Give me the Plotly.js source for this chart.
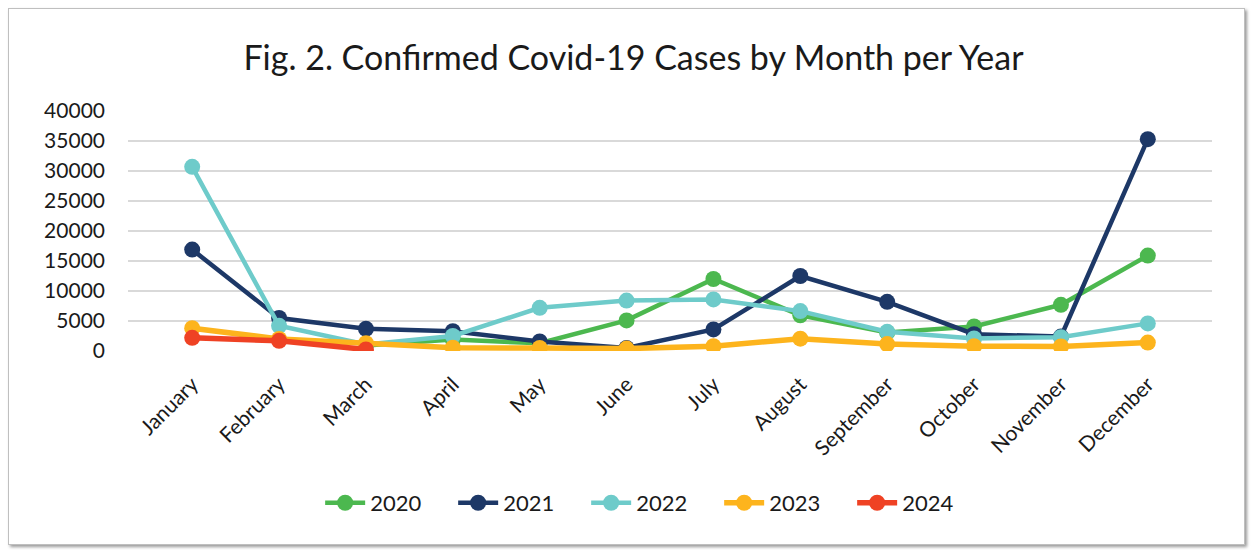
<!DOCTYPE html>
<html>
<head>
<meta charset="utf-8">
<script src="https://cdn.plot.ly/plotly-3.0.1.min.js"></script>
<style>
  html, body { margin: 0; padding: 0; background: #ffffff; }
  #frame { position: absolute; left: 8px; top: 8px; width: 1235px; height: 535px;
           border: 1px solid #bfbfbf; box-shadow: 2px 2px 3px #9a9a9a; background: #fff; }
  #chart { position: absolute; left: 0; top: 0; width: 1252px; height: 550px; }
</style>
</head>
<body>
<div id="frame"></div>
<div id="chart"></div>
<script>
const months = ["January","February","March","April","May","June","July","August","September","October","November","December"];
const years = ["2020","2021","2022","2023","2024"];
const cases2020 = [null, null, 900, 1900, 1300, 5100, 12000, 5950, 3100, 4100, 7700, 15900];
const cases2021 = [16900, 5500, 3700, 3300, 1600, 500, 3600, 12500, 8200, 2800, 2400, 35300];
const cases2022 = [30700, 4200, 1100, 2500, 7200, 8400, 8600, 6650, 3200, 2100, 2300, 4600];
const cases2023 = [3800, 2000, 1300, 550, 500, 400, 800, 2050, 1150, 800, 750, 1400];
const cases2024 = [2200, 1700, 250, null, null, null, null, null, null, null, null, null];
const yTicks = [0, 5000, 10000, 15000, 20000, 25000, 30000, 35000, 40000];

const colors = ["#4cb84f", "#1d3867", "#6ecbca", "#fdb41d", "#ef4224"];
const widths = [4.5, 4.5, 4.5, 5.5, 5.5];
const series = [cases2020, cases2021, cases2022, cases2023, cases2024];

const traces = series.map((vals, i) => ({
  type: "scatter",
  mode: "lines+markers",
  name: years[i],
  x: months,
  y: vals,
  line: { color: colors[i], width: widths[i] },
  marker: { color: colors[i], size: 16 }
}));

const layout = {
  width: 1252, height: 550,
  paper_bgcolor: "rgba(0,0,0,0)",
  plot_bgcolor: "rgba(0,0,0,0)",
  margin: { l: 128, r: 40, t: 111, b: 199 },
  font: { family: "Lato, 'Open Sans', sans-serif", color: "#1a1a1a" },
  title: {
    text: "Fig. 2. Confirmed Covid-19 Cases by Month per Year",
    font: { size: 34, family: "Lato, sans-serif", color: "#1a1a1a" },
    x: 0.506, xanchor: "center", xref: "container",
    y: 0.895, yanchor: "middle", yref: "container"
  },
  xaxis: {
    type: "category",
    tickangle: -45,
    tickfont: { size: 21 },
    showgrid: false,
    showline: false,
    ticks: "",
    zeroline: false,
    ticklabelstandoff: 16
  },
  yaxis: {
    range: [0, 40000],
    tickvals: yTicks,
    ticktext: yTicks.map(String),
    tickfont: { size: 21 },
    gridcolor: "#d9d9d9",
    gridwidth: 1.5,
    zeroline: false,
    showline: false,
    ticks: "",
    ticklabelstandoff: 22
  },
  showlegend: true,
  legend: {
    orientation: "h",
    x: 0.484, xanchor: "center",
    y: -0.633, yanchor: "middle",
    font: { size: 22 },
    itemwidth: 40,
    entrywidth: 78,
    traceorder: "normal"
  }
};

Plotly.newPlot("chart", traces, layout, { displayModeBar: false, staticPlot: true });
</script>
</body>
</html>
